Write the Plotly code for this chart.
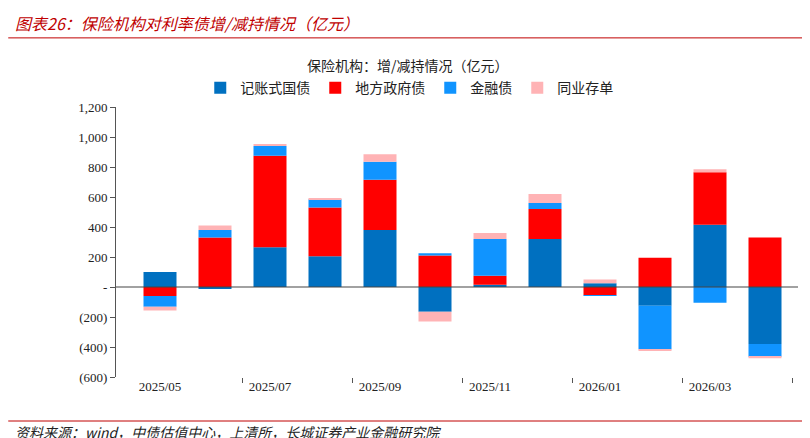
import plotly.graph_objects as go

months = ["2025/05","2025/06","2025/07","2025/08","2025/09","2025/10","2025/11","2025/12","2026/01","2026/02","2026/03","2026/04"]
gov   = [100, -10, 265, 205, 380, -165, 15, 320, 25, -125, 415, -380]
local = [-60, 330, 610, 325, 335, 210, 60, 200, -55, 195, 350, 330]
fin   = [-72, 50, 65, 55, 120, 15, 245, 40, -5, -290, -105, -85]
cd    = [-25, 30, 10, 5, 50, -65, 40, 60, 25, -10, 20, -10]
names = ["记账式国债", "地方政府债", "金融债", "同业存单"]
colors = ["#0070C0", "#FF0000", "#1094FF", "#FFB3B5"]
yvals = [-600, -400, -200, 0, 200, 400, 600, 800, 1000, 1200]
ytext = ["(600)", "(400)", "(200)", "-", "200", "400", "600", "800", "1,000", "1,200"]

x = list(range(len(months)))
fig = go.Figure()
for n, c, v in zip(names, colors, [gov, local, fin, cd]):
    fig.add_trace(go.Bar(x=x, y=v, name=n, marker=dict(color=c, line=dict(width=0)), width=0.6))

font = "Noto Sans CJK SC"
fig.update_layout(
    barmode="relative", width=810, height=438, plot_bgcolor="white", paper_bgcolor="white",
    margin=dict(l=108, r=20, t=99, b=69),
    font=dict(family=font, size=13, color="#333"),
    legend=dict(orientation="h", x=0.43, xanchor="center", y=1.07, yanchor="middle",
                font=dict(size=14, color="#222"), traceorder="normal"),
    xaxis=dict(range=[-0.8, 11.6], tickvals=x[::2], ticktext=months[::2], ticks="", showgrid=False,
               showline=False, zeroline=False, tickfont=dict(family="Liberation Serif", size=13, color="#222"),
               minor=dict(tickvals=[1.5, 3.5, 5.5, 7.5, 9.5, 11.5], ticks="outside", ticklen=5, tickcolor="#555")),
    yaxis=dict(range=[-600, 1200], tickvals=yvals, ticktext=ytext, showgrid=False, zeroline=False,
               showline=True, linecolor="#555", ticks="outside", ticklen=5, tickcolor="#555",
               tickfont=dict(family="Liberation Serif", size=13, color="#222")),
    shapes=[dict(type="line", xref="paper", yref="y", x0=0, x1=1, y0=0, y1=0, line=dict(color="#444", width=1.2)),
            dict(type="line", xref="paper", yref="paper", x0=-0.158, x1=1.029, y0=1.256, y1=1.256, line=dict(color="#C00000", width=1)),
            dict(type="line", xref="paper", yref="paper", x0=-0.158, x1=1.029, y0=-0.163, y1=-0.163, line=dict(color="#C00000", width=1))],
    annotations=[
        dict(text="<i>图表26：保险机构对利率债增/减持情况（亿元）</i>", xref="paper", yref="paper", x=-0.151, y=1.311,
             xanchor="left", yanchor="middle", showarrow=False, font=dict(size=16, color="#C00000")),
        dict(text="保险机构：增/减持情况（亿元）", xref="paper", yref="paper", x=0.428, y=1.156,
             xanchor="center", yanchor="middle", showarrow=False, font=dict(size=14, color="#222")),
        dict(text="<i>资料来源：wind，中债估值中心，上清所，长城证券产业金融研究院</i>", xref="paper", yref="paper",
             x=-0.151, y=-0.204, xanchor="left", yanchor="middle", showarrow=False, font=dict(size=14, color="#222")),
    ],
)
fig.write_html("out.html")
